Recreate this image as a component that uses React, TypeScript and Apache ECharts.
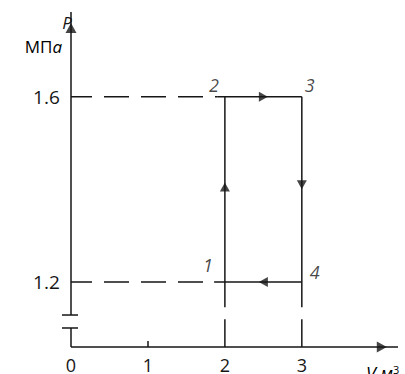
import React, { useEffect, useRef } from "react";
import * as echarts from "echarts";

// Thermodynamic cycle states (V in m³, P in MPa)
const stateNames = ["1", "2", "3", "4"];
const stateV = [2, 2, 3, 3];
const stateP = [1.2, 1.6, 1.6, 1.2];
const xTickLabels = [0, 1, 2, 3];
const yTickLabels = [1.2, 1.6];
const xMin = -0.12;
const xMax = 4.25;
const yMin = 1.06;
const yMax = 1.7826;
// process direction arrows: [V, P, rotation]
const arrowV = [2.5, 3, 2.5, 2];
const arrowP = [1.6, 1.41, 1.2, 1.405];
const arrowRot = [-90, 180, 90, 0];

const INK = "#161616";
const FONT = "'Open Sans', 'Noto Sans', sans-serif";

export default function App() {
  const ref = useRef<HTMLDivElement>(null);
  useEffect(() => {
    if (!ref.current) return;
    const chart = echarts.init(ref.current, null, { renderer: "svg" });
    const seg = (data: number[][], dashed = false) => ({
      type: "line",
      data,
      symbol: "none",
      clip: false,
      silent: true,
      lineStyle: dashed
        ? { color: INK, width: 1.5, type: [25, 12], dashOffset: 4 }
        : { color: INK, width: 1.5 },
    });
    const p = (i: number) => [stateV[i], stateP[i]];
    const labelOffsets = [
      [-17, -17],
      [-11, -12],
      [8, -12],
      [13, -10],
    ];
    chart.setOption({
      animation: false,
      grid: { left: 61.77, top: 12, right: 7, bottom: 26 },
      xAxis: {
        type: "value",
        min: xMin,
        max: xMax,
        splitLine: { show: false },
        axisLine: { show: false },
        axisTick: {
          show: true,
          inside: true,
          length: 6,
          customValues: [1],
          lineStyle: { color: INK, width: 1.5 },
        },
        axisLabel: {
          customValues: xTickLabels,
          margin: 9,
          fontSize: 18,
          fontFamily: FONT,
          color: INK,
        },
      },
      yAxis: {
        type: "value",
        min: yMin,
        max: yMax,
        splitLine: { show: false },
        axisLine: { show: false },
        axisTick: { show: false },
        axisLabel: {
          customValues: yTickLabels,
          formatter: (v: number) => v.toFixed(1),
          margin: 2,
          fontSize: 19,
          fontFamily: FONT,
          color: INK,
        },
      },
      series: [
        // x axis
        seg([[0, yMin], [xMax, yMin]]),
        // y axis with break
        seg([[0, 1.129], [0, yMax]]),
        seg([[0, yMin], [0, 1.101]]),
        seg([[-0.117, 1.129], [0.091, 1.129]]),
        seg([[-0.117, 1.101], [0.091, 1.101]]),
        // dashed projection lines
        seg([[0, stateP[1]], [1.9, stateP[1]]], true),
        seg([[0, stateP[0]], [1.86, stateP[0]]], true),
        // cycle
        seg([[1.9, stateP[1]], p(2)]),
        seg([[1.86, stateP[0]], p(3)]),
        seg([p(1), [stateV[0], 1.146]]),
        seg([p(2), [stateV[3], 1.146]]),
        seg([[stateV[0], 1.12], [stateV[0], yMin]]),
        seg([[stateV[3], 1.12], [stateV[3], yMin]]),
        {
          type: "scatter",
          silent: true,
          clip: false,
          symbol: "triangle",
          symbolSize: [10, 9],
          symbolRotate: (v: number[]) => v[2],
          itemStyle: { color: INK },
          data: arrowV.map((v, i) => [v, arrowP[i], arrowRot[i]]),
        },
        {
          type: "scatter",
          silent: true,
          clip: false,
          symbol: "triangle",
          symbolSize: [11, 10],
          symbolRotate: (v: number[]) => v[2],
          itemStyle: { color: INK },
          data: [
            [0, 1.748, 0],
            [4.04, yMin, -90],
          ],
        },
        {
          type: "scatter",
          silent: true,
          clip: false,
          symbolSize: 0,
          data: stateNames.map((n, i) => ({
            value: [stateV[i], stateP[i]],
            name: n,
            label: {
              show: true,
              position: "inside",
              offset: labelOffsets[i],
              formatter: n,
              fontSize: 18,
              fontStyle: "italic",
              fontFamily: FONT,
              color: INK,
            },
          })),
        },
      ],
      graphic: [
        {
          type: "text",
          x: 67,
          y: 22,
          style: {
            text: "P",
            fontSize: 17,
            fontStyle: "italic",
            fontFamily: FONT,
            fill: INK,
            align: "center",
            verticalAlign: "middle",
          },
        },
        {
          type: "text",
          x: 62,
          y: 46,
          style: {
            text: "{u|МП}{i|a}",
            align: "right",
            verticalAlign: "middle",
            rich: {
              u: { fontSize: 17, fontFamily: FONT, color: INK },
              i: { fontSize: 17, fontFamily: FONT, fontStyle: "italic", color: INK },
            },
          },
        },
        {
          type: "text",
          x: 366,
          y: 364,
          style: {
            text: "{i|V м}{s|3}",
            align: "left",
            verticalAlign: "top",
            rich: {
              i: { fontSize: 18, fontFamily: FONT, fontStyle: "italic", color: INK },
              s: { fontSize: 11, fontFamily: FONT, color: INK, verticalAlign: "top" },
            },
          },
        },
      ],
    });
    return () => chart.dispose();
  }, []);
  return (
    <div
      ref={ref}
      style={{ position: "fixed", left: 0, top: 0, width: 405, height: 374, background: "#fff" }}
    />
  );
}
